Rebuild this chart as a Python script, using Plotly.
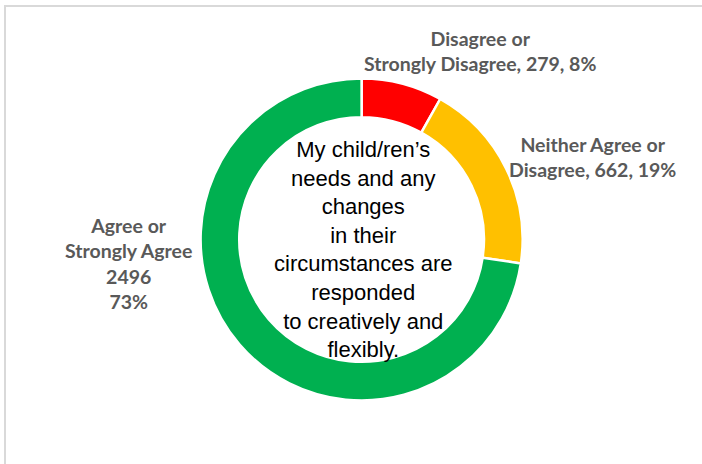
import plotly.graph_objects as go

categories = ["Disagree or Strongly Disagree", "Neither Agree or Disagree", "Agree or Strongly Agree"]
counts = [279, 662, 2496]
percents = ["8%", "19%", "73%"]
colors = ["#FF0000", "#FFC000", "#00B050"]
center_text = ["My child/ren\u2019s", "needs and any", "changes", "in their",
               "circumstances are", "responded", "to creatively and", "flexibly."]

W, H = 702, 464
cx, cy, R = 361.6, 239.5, 161.0

fig = go.Figure(go.Pie(
    labels=categories,
    values=counts,
    sort=False,
    direction="clockwise",
    rotation=0,
    hole=0.76,
    marker=dict(colors=colors, line=dict(color="white", width=2.5)),
    textinfo="none",
    hoverinfo="label+value+percent",
    showlegend=False,
    domain=dict(x=[(cx - R) / W, (cx + R) / W], y=[(H - cy - R) / H, (H - cy + R) / H]),
))

lab_font = dict(family="Lato", size=19.5, color="#595959")
label_texts = [
    "<b>Disagree or<br>Strongly Disagree, %d, %s</b>" % (counts[0], percents[0]),
    "<b>Neither Agree or<br>Disagree, %d, %s</b>" % (counts[1], percents[1]),
    "<b>Agree or<br>Strongly Agree<br>%d<br>%s</b>" % (counts[2], percents[2]),
]
label_pos = [(480, 51), (592, 157), (128, 263)]
for t, (x, y) in zip(label_texts, label_pos):
    fig.add_annotation(x=x / W, y=1 - y / H, xref="paper", yref="paper", text=t,
                       showarrow=False, font=lab_font, align="center",
                       xanchor="center", yanchor="middle")

fig.add_annotation(x=363 / W, y=1 - 249 / H, xref="paper", yref="paper",
                   text="<br>".join(center_text), showarrow=False,
                   font=dict(family="Liberation Sans", size=22, color="black"),
                   align="center", xanchor="center", yanchor="middle")

fig.add_shape(type="rect", xref="paper", yref="paper",
              x0=5 / W, x1=1.05, y0=-0.05, y1=1 - 6 / H,
              line=dict(color="#D9D9D9", width=2), fillcolor="rgba(0,0,0,0)")

fig.update_layout(width=W, height=H, margin=dict(l=0, r=0, t=0, b=0),
                  paper_bgcolor="white", plot_bgcolor="white")

fig.write_html("out.html", config={"displayModeBar": False},
               post_script="document.body.style.margin='0';document.body.style.overflow='hidden';")
